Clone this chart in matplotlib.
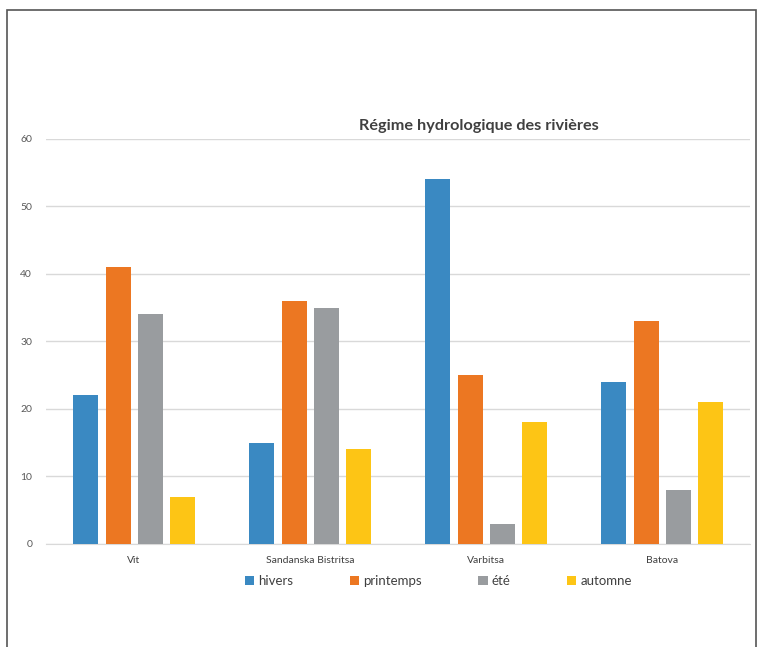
import numpy as np
import matplotlib.pyplot as plt
from matplotlib.patches import Rectangle

# données
rivieres = ["Vit", "Sandanska Bistritsa", "Varbitsa", "Batova"]
saisons = ["hivers", "printemps", "été", "automne"]
hivers = [22, 15, 54, 24]
printemps = [41, 36, 25, 33]
ete = [34, 35, 3, 8]
automne = [7, 14, 18, 21]
couleurs = ["#3A89C2", "#EC7722", "#999C9F", "#FDC515"]

plt.rcParams['font.family'] = ['Lato', 'DejaVu Sans']

fig = plt.figure(figsize=(7.57, 6.47), dpi=100)
ax = fig.add_axes([0.0608, 0.1592, 0.93, 0.626])

x = np.arange(len(rivieres))
w = 0.142
step = 0.182
series = [hivers, printemps, ete, automne]
for i, (vals, c, lab) in enumerate(zip(series, couleurs, saisons)):
    ax.bar(x + (i - 1.5) * step, vals, width=w, color=c, label=lab, zorder=3)

ax.set_xlim(-0.5, 3.5)
ax.set_ylim(0, 60)
ax.set_yticks(range(0, 61, 10))
ax.set_xticks(x)
ax.set_xticklabels(rivieres, fontsize=7.5, color="#404040")
ax.tick_params(axis='y', labelsize=7.5, labelcolor="#595959", length=0, pad=10)
ax.tick_params(axis='x', length=0, pad=9)
ax.grid(axis='y', color="#D9D9D9", linewidth=1, zorder=0)
for s in ['top', 'right', 'left']:
    ax.spines[s].set_visible(False)
ax.spines['bottom'].set_color("#D9D9D9")

fig.text(0.632, 0.805, "Régime hydrologique des rivières", fontsize=11.7,
         fontweight='bold', color="#404040", ha='center', va='center')

leg = fig.legend(loc='center', bbox_to_anchor=(0.579, 0.102), ncol=4,
                 frameon=False, fontsize=9.5, handlelength=0.7, handleheight=0.7,
                 handletextpad=0.3, columnspacing=4.3)
for t in leg.get_texts():
    t.set_color("#404040")

# cadre autour de l'image
fig.patches.append(Rectangle((0.0092, -0.05), 0.989, 1.0345,
                             transform=fig.transFigure, fill=False,
                             edgecolor="#555555", linewidth=1.2))

fig.savefig("out.png", dpi=100)
